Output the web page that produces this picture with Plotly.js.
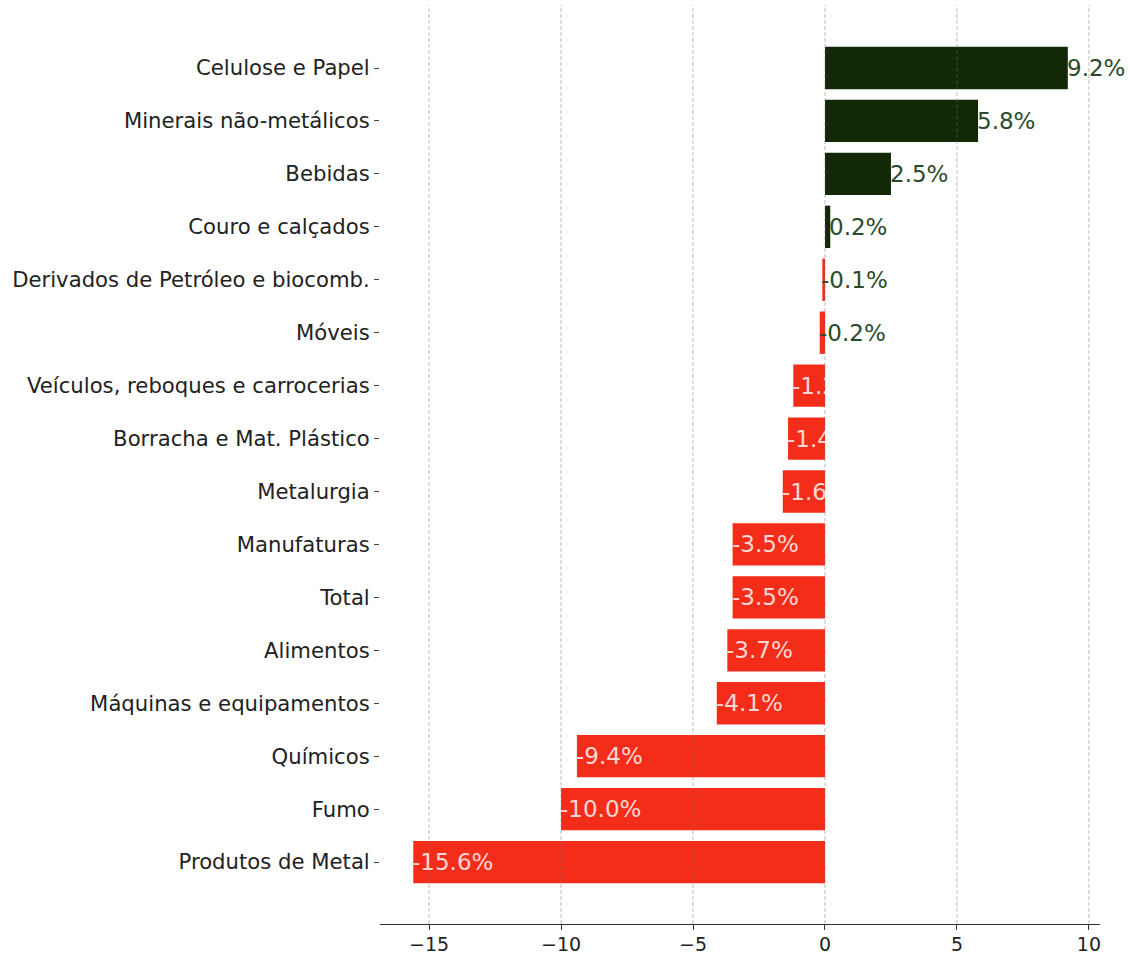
<!DOCTYPE html>
<html>
<head>
<meta charset="utf-8">
<script src="https://cdn.plot.ly/plotly-3.0.1.min.js"></script>
<style>html,body{margin:0;padding:0;background:#fff;}#chart{width:1130px;height:955px;}</style>
</head>
<body>
<div id="chart"></div>
<script>
const categories = [
  "Celulose e Papel",
  "Minerais não-metálicos",
  "Bebidas",
  "Couro e calçados",
  "Derivados de Petróleo e biocomb.",
  "Móveis",
  "Veículos, reboques e carrocerias",
  "Borracha e Mat. Plástico",
  "Metalurgia",
  "Manufaturas",
  "Total",
  "Alimentos",
  "Máquinas e equipamentos",
  "Químicos",
  "Fumo",
  "Produtos de Metal"
];
const values = [9.2, 5.8, 2.5, 0.2, -0.1, -0.2, -1.2, -1.4, -1.6, -3.5, -3.5, -3.7, -4.1, -9.4, -10.0, -15.6];
const tickVals = [-15, -10, -5, 0, 5, 10];
const tickText = ["\u221215", "\u221210", "\u22125", "0", "5", "10"];

const GREEN = "#122806";
const RED = "#f32d1a";
const barColors = values.map(v => v >= 0 ? GREEN : RED);
const textColors = values.map(v => v < -0.5 ? "rgba(255,255,255,0.82)" : "#2c4a2c");

const trace = {
  type: "bar",
  orientation: "h",
  x: values,
  y: categories,
  width: 0.8,
  marker: {color: barColors, line: {width: 0}},
  hoverinfo: "x+y"
};

const annotations = values.map((v, i) => ({
  x: v, y: categories[i], xref: "x", yref: "y",
  text: v.toFixed(1) + "%",
  showarrow: false, xanchor: "left", yanchor: "middle",
  xshift: -3,
  font: {family: "DejaVu Sans", size: 23, color: textColors[i]}
}));

const shapes = tickVals.map(t => ({
  type: "line", xref: "x", yref: "paper", x0: t, x1: t, y0: 0, y1: 1,
  layer: "above",
  line: {color: "rgba(110,110,110,0.45)", width: 1, dash: "4px,2px"}
}));

const layout = {
  width: 1130, height: 955,
  margin: {l: 380, r: 30, t: 5, b: 31},
  paper_bgcolor: "#ffffff", plot_bgcolor: "#ffffff",
  font: {family: "DejaVu Sans", size: 20, color: "#222"},
  showlegend: false,
  bargap: 0.2,
  xaxis: {
    range: [-16.86, 10.42],
    tickvals: tickVals, ticktext: tickText,
    showgrid: false, zeroline: false,
    showline: true, linecolor: "#333", linewidth: 1.3,
    ticks: "outside", ticklen: 5, tickcolor: "#333",
    ticklabelstandoff: -2,
    tickfont: {family: "DejaVu Sans", size: 19, color: "#222"}
  },
  yaxis: {
    type: "category",
    categoryorder: "array", categoryarray: categories,
    range: [16.17, -1.19],
    showgrid: false, zeroline: false, showline: false,
    ticks: "outside", ticklen: 5, tickcolor: "#444",
    tickfont: {family: "DejaVu Sans", size: 21.2, color: "#222"}
  },
  shapes: shapes,
  annotations: annotations
};

Plotly.newPlot("chart", [trace], layout, {displayModeBar: false, staticPlot: true});
</script>
</body>
</html>
